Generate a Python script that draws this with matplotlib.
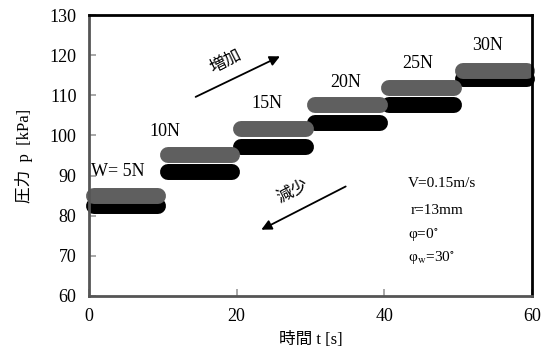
import numpy as np
import matplotlib.pyplot as plt

# step levels (load W = 5..30 N)
t_start = [0.7, 10.7, 20.6, 30.6, 40.6, 50.7]
t_end = [9.3, 19.4, 29.4, 39.4, 49.4, 59.3]
p_inc = [85.0, 95.2, 101.7, 107.6, 111.8, 116.1]   # 増加 (gray)
p_dec = [82.4, 91.0, 97.0, 103.0, 107.7, 114.0]    # 減少 (black)
loads = ["W= 5N", "10N", "15N", "20N", "25N", "30N"]
label_t = [0.3, 10.3, 24.1, 34.8, 44.5, 54.0]
label_p = [90.9, 100.9, 108.0, 113.3, 117.8, 122.5]

plt.rcParams['font.family'] = ['Liberation Serif', 'Noto Sans CJK JP']
plt.rcParams['mathtext.fontset'] = 'stix'

fig = plt.figure(figsize=(5.53, 3.53), dpi=100)
ax = fig.add_axes([0.161, 0.1615, 0.801, 0.796])

for a, b, p in zip(t_start, t_end, p_dec):
    ax.plot([a, b], [p, p], color="black", lw=11.5, solid_capstyle="round", clip_on=False)
for a, b, p in zip(t_start, t_end, p_inc):
    ax.plot([a, b], [p, p], color="#5f5f5f", lw=11.5, solid_capstyle="round", clip_on=False)

for s, x, y in zip(loads, label_t, label_p):
    ax.text(x, y, s, fontsize=13, ha="left" if s.startswith("W") else "center", va="center")

# arrows
ax.annotate("", xy=(26.2, 120.0), xytext=(14.1, 109.3),
            arrowprops=dict(arrowstyle="-|>", color="black", lw=1.3, mutation_scale=15))
ax.text(18.6, 118.3, "増加", rotation=27, fontsize=12, ha="center", va="center")
ax.annotate("", xy=(23.0, 76.2), xytext=(35.1, 87.6),
            arrowprops=dict(arrowstyle="-|>", color="black", lw=1.3, mutation_scale=15))
ax.text(27.6, 85.9, "減少", rotation=27, fontsize=12, ha="center", va="center")

# conditions
ax.text(43.2, 87.9, "V=0.15m/s", fontsize=11, va="center")
ax.text(43.5, 81.2, "r=13mm", fontsize=11, va="center")
ax.text(43.2, 75.4, "φ=0$^{\\circ}$", fontsize=11, va="center")
ax.text(43.2, 69.5, "φ$_{\\rm w}$=30$^{\\circ}$", fontsize=11, va="center")

ax.set_xlim(0, 60)
ax.set_ylim(60, 130)
ax.set_xticks([0, 20, 40, 60])
ax.set_yticks(np.arange(60, 131, 10))
ax.tick_params(direction="in", length=5, width=1.2, color="#999999", labelsize=13, pad=9)
ax.set_xlabel("時間 t [s]", fontsize=12, labelpad=5)
ax.set_ylabel("圧力  p  [kPa]", fontsize=12, labelpad=12)

for side in ["left", "bottom"]:
    ax.spines[side].set_color("#555555")
    ax.spines[side].set_linewidth(2)
for side in ["top", "right"]:
    ax.spines[side].set_color("black")
    ax.spines[side].set_linewidth(2)

fig.savefig("out.png", dpi=100)
